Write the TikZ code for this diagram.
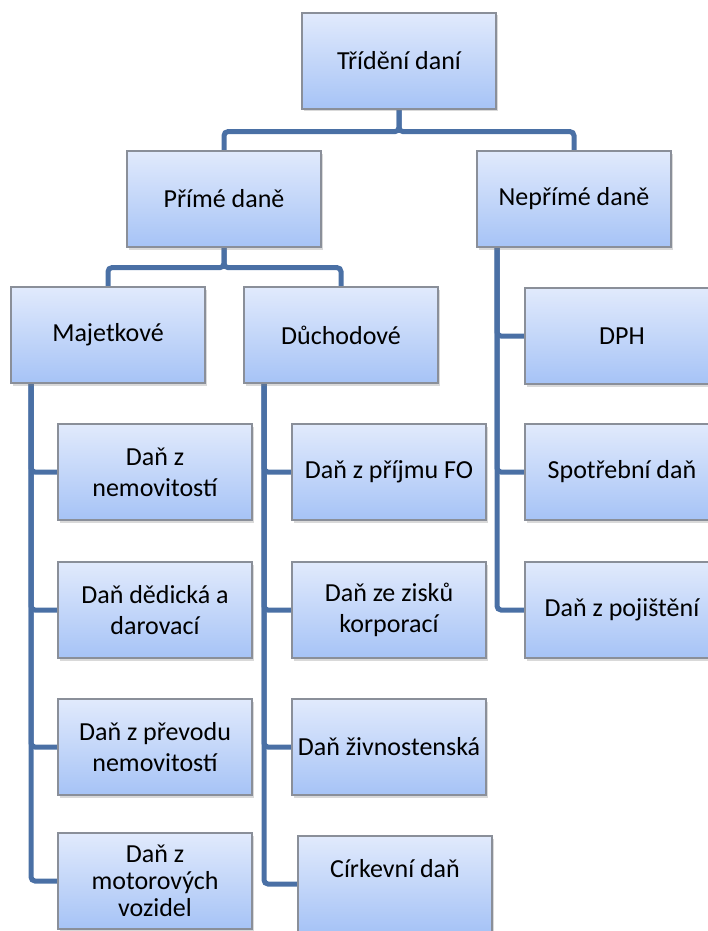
\documentclass[tikz,border=0pt]{standalone}
\usepackage{fontspec}
\setmainfont{Carlito}
\usepackage{tikz}
\usetikzlibrary{positioning, shadows, backgrounds, calc}
\definecolor{boxtop}{HTML}{E1EAFC}
\definecolor{boxbot}{HTML}{A6C3F6}
\definecolor{boxline}{HTML}{8A8F99}
\definecolor{linkblue}{HTML}{4A70A5}

\begin{document}
\begin{tikzpicture}[x=1pt, y=-1pt, font=\fontsize{26}{31}\selectfont,
  box/.style={rectangle, draw=boxline, line width=1.2pt, top color=boxtop, bottom color=boxbot,
    minimum width=194pt, minimum height=96pt, inner sep=2pt, align=center,
    drop shadow={shadow xshift=1.5pt, shadow yshift=-2.5pt, opacity=0.3}},
  link/.style={draw=linkblue, line width=5pt, rounded corners=4pt}]
  \clip (0,0) rectangle (708,931);
  % top levels
  \node[box] (trideni) at (399,61) {Třídění daní};
  \node[box] (prime) at (224,199) {Přímé daně};
  \node[box] (neprime) at (574,199) {Nepřímé daně};
  \node[box] (majetkove) at (108,335) {Majetkové};
  \node[box] (duchodove) at (341,335) {Důchodové};
  % majetkove
  \node[box] (dnem) at (155,472) {Daň z\\nemovitostí};
  \node[box] (ddar) at (155,610) {Daň dědická a\\darovací};
  \node[box] (dprev) at (155,747) {Daň z převodu\\nemovitostí};
  \node[box] (dmot) at (155,881) {Daň z\\[-4pt]motorových\\[-4pt]vozidel};
  % duchodove
  \node[box] (dfo) at (389,472) {Daň z příjmu FO};
  \node[box] (dkorp) at (389,610) {Daň ze zisků\\korporací};
  \node[box] (dzivn) at (389,747) {Daň živnostenská};
  \node[box] (dcirk) at (395,884) {Církevní daň\\\mbox{}};
  % neprime
  \node[box] (dph) at (622,336) {DPH};
  \node[box] (dspotr) at (622,472) {Spotřební daň};
  \node[box] (dpoj) at (622,610) {Daň z pojištění};
  % connectors
  \begin{scope}[on background layer]
    \draw[link] (trideni.south) -- ++(0,22) -| (prime.north);
    \draw[link] (trideni.south) -- ++(0,22) -| (neprime.north);
    \draw[link] (prime.south) -- ++(0,20) -| (majetkove.north);
    \draw[link] (prime.south) -- ++(0,20) -| (duchodove.north);
    \coordinate (majbus) at ([xshift=-77pt]majetkove.south);
    \coordinate (duchbus) at ([xshift=-77pt]duchodove.south);
    \coordinate (nepbus) at ([xshift=-77pt]neprime.south);
    \foreach \c in {dnem, ddar, dprev, dmot}
      \draw[link] (majbus) |- (\c.west);
    \foreach \c in {dfo, dkorp, dzivn, dcirk}
      \draw[link] (duchbus) |- (\c.west);
    \foreach \c in {dph, dspotr, dpoj}
      \draw[link] (nepbus) |- (\c.west);
  \end{scope}
\end{tikzpicture}
\end{document}
